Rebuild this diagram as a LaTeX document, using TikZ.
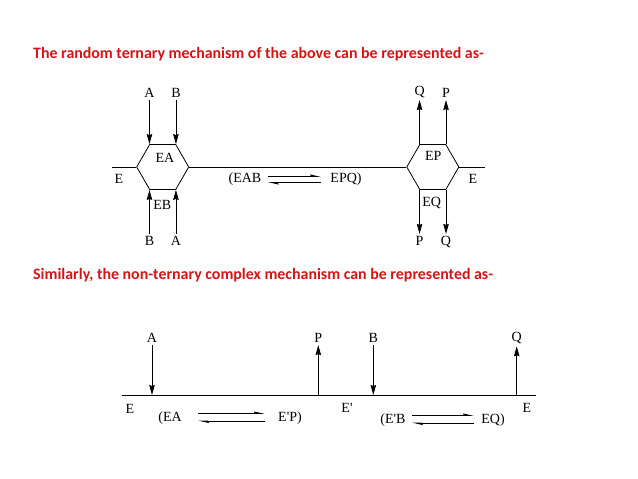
\documentclass[tikz,border=0pt]{standalone}
\usepackage{fontspec}
\setmainfont{Liberation Serif}
\newfontfamily\headfont{Carlito}
\usepackage{tikz}
\usetikzlibrary{arrows.meta,positioning,shapes.geometric}
\definecolor{HeadRed}{RGB}{208,22,22}
\tikzset{
  lbl/.style={inner sep=1.5pt,outer sep=1pt,font=\fontsize{14}{16}\selectfont},
  headline/.style={anchor=west,inner sep=0pt,text=HeadRed,font=\headfont\bfseries\fontsize{15.9}{18}\selectfont},
  hexbox/.style={draw,regular polygon,regular polygon sides=6,minimum size=52pt,inner sep=0pt,line width=0.8pt},
  wire/.style={line width=0.8pt},
  flow/.style={-{Stealth[length=10pt,width=5.5pt,inset=1pt]},line width=0.8pt},
  harp/.style={-{Stealth[left,length=9pt,width=4pt,inset=1pt]},line width=0.8pt}
}

\begin{document}
\begin{tikzpicture}[x=1pt,y=-1pt]
\useasboundingbox (0,0) rectangle (638,479);
\node[headline] (head1) at (33,54) {The random ternary mechanism of the above can be represented as-};
\node[headline] (head2) at (33,275) {Similarly, the non-ternary complex mechanism can be represented as-};
% random ternary
\node[hexbox] (hexA) at (162.7,167) {};
\node[hexbox] (hexP) at (432.8,167) {};
\coordinate (endL) at (111.7,167);
\coordinate (endR) at (485,167);
\draw[wire] (endL)--(hexA.west); \draw[wire] (hexA.east)--(hexP.west); \draw[wire] (hexP.east)--(endR);
\node[lbl,above=44pt of hexA.120] (inA) {A};
\node[lbl,above=44pt of hexA.60] (inB) {B};
\node[lbl,below=44pt of hexA.240] (inB2) {B};
\node[lbl,below=44pt of hexA.300] (inA2) {A};
\draw[flow] (inA)--(hexA.120); \draw[flow] (inB)--(hexA.60);
\draw[flow] (inB2)--(hexA.240); \draw[flow] (inA2)--(hexA.300);
\node[lbl,above=44pt of hexP.120] (outQ) {Q};
\node[lbl,above=44pt of hexP.60] (outP) {P};
\node[lbl,below=44pt of hexP.240] (outP2) {P};
\node[lbl,below=44pt of hexP.300] (outQ2) {Q};
\draw[flow] (hexP.120)--(outQ); \draw[flow] (hexP.60)--(outP);
\draw[flow] (hexP.240)--(outP2); \draw[flow] (hexP.300)--(outQ2);
\node[lbl] (e1) at (119,179) {E};
\node[lbl] (ea) at (165,158) {EA};
\node[lbl] (eb) at (162.3,205) {EB};
\node[lbl] (ep) at (433.3,156) {EP};
\node[lbl] (eq) at (431.7,203) {EQ};
\node[lbl] (e2) at (473,179) {E};
\node[lbl] (eab) at (245,179) {(EAB};
\node[lbl] (epq) at (346,179) {EPQ)};
\draw[harp,shorten <=4pt,shorten >=7pt] ([yshift=2.5pt]eab.east)--([yshift=2.5pt]epq.west);
\draw[harp,shorten <=7pt,shorten >=4pt] ([yshift=-3.5pt]epq.west)--([yshift=-3.5pt]eab.east);
% non-ternary
\coordinate (baseL) at (121.7,395);
\coordinate (baseR) at (535.7,395);
\draw[wire] (baseL)--(baseR);
\node[lbl] (subA) at (152,338) {A};
\node[lbl] (prodP) at (318.3,338) {P};
\node[lbl] (subB) at (373.3,338) {B};
\node[lbl] (prodQ) at (516.7,338) {Q};
\draw[flow] (subA)--(subA |- baseL); \draw[flow] (prodP |- baseL)--(prodP);
\draw[flow] (subB)--(subB |- baseL); \draw[flow] (prodQ |- baseL)--(prodQ);
\node[lbl] (f1) at (130,409) {E};
\node[lbl] (f2) at (347,408) {E\textquotesingle};
\node[lbl] (f3) at (527,408) {E};
\node[lbl] (fea) at (170,418) {(EA};
\node[lbl] (fep) at (290,418) {E\textquotesingle P)};
\node[lbl] (feb) at (393,420) {(E\textquotesingle B};
\node[lbl] (feq) at (493,420) {EQ)};
\draw[harp,shorten <=14pt,shorten >=11pt] ([yshift=4.5pt]fea.east)--([yshift=4.5pt]fep.west);
\draw[harp,shorten <=11pt,shorten >=14pt] ([yshift=-3pt]fep.west)--([yshift=-3pt]fea.east);
\draw[harp,shorten <=4pt,shorten >=5pt] ([yshift=4.5pt]feb.east)--([yshift=4.5pt]feq.west);
\draw[harp,shorten <=5pt,shorten >=4pt] ([yshift=-3pt]feq.west)--([yshift=-3pt]feb.east);
\end{tikzpicture}
\end{document}
